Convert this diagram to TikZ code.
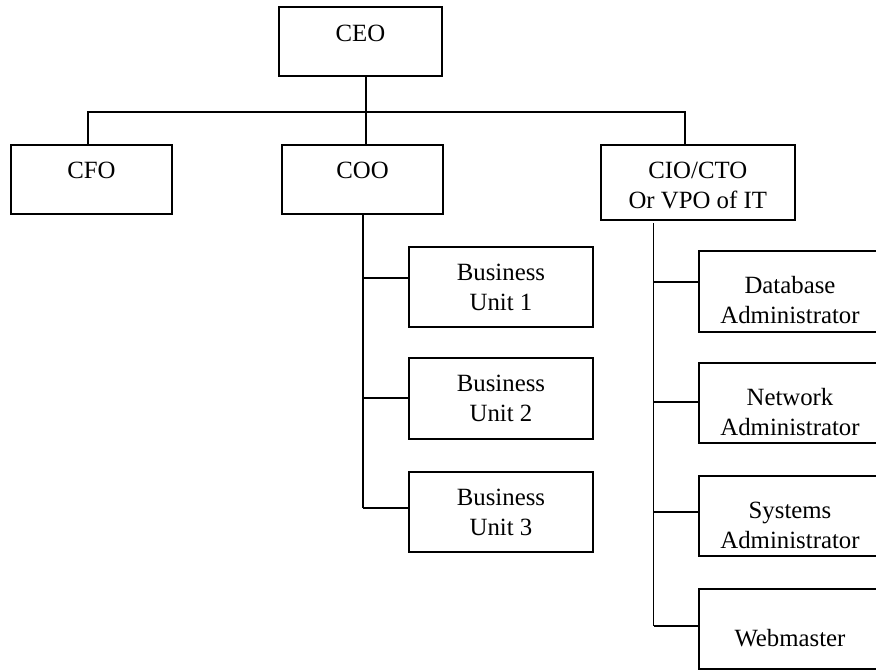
\documentclass[tikz,border=0pt]{standalone}
\usepackage{fontspec}
\setmainfont{Liberation Serif}
\begin{document}
\begin{tikzpicture}[x=1pt,y=-1pt,
  box/.style={draw,line width=1.8pt,rectangle,inner sep=0pt},
  txt/.style={anchor=base,align=center,inner sep=0pt,font=\fontsize{24.8}{30}\selectfont},
  conn/.style={line width=1.8pt}]
\useasboundingbox (0,0) rectangle (876,672);
\clip (0,0) rectangle (876,672);
% boxes
\node[box,minimum width=163pt,minimum height=69.3pt] (ceo) at (360.5,41.35) {};
\node[box,minimum width=161pt,minimum height=69pt] (cfo) at (91.5,179.5) {};
\node[box,minimum width=161.6pt,minimum height=69pt] (coo) at (362.5,179.5) {};
\node[box,minimum width=194.3pt,minimum height=75pt] (cio) at (697.85,182.5) {};
\node[box,minimum width=184.6pt,minimum height=80.6pt] (bu1) at (501,287) {};
\node[box,minimum width=184.6pt,minimum height=80.7pt] (bu2) at (501,398.65) {};
\node[box,minimum width=184.6pt,minimum height=80.6pt] (bu3) at (501,512) {};
\node[box,minimum width=182.6pt,minimum height=81pt] (db) at (790,291.2) {};
\node[box,minimum width=182.6pt,minimum height=80pt] (net) at (790,402.7) {};
\node[box,minimum width=182.6pt,minimum height=80.3pt] (sys) at (790,515.85) {};
\node[box,minimum width=182.6pt,minimum height=80pt] (web) at (790,629.3) {};
% texts (anchor base = baseline of the last line)
\node[txt] (tceo) at (360.5,41.7) {CEO};
\node[txt] (tcfo) at (91.5,178) {CFO};
\node[txt] (tcoo) at (362.5,178) {COO};
\node[txt] (tcio) at (697.8,208.3) {CIO/CTO\\Or VPO of IT};
\node[txt] (tbu1) at (501,310.5) {Business\\Unit 1};
\node[txt] (tbu2) at (501,421.8) {Business\\Unit 2};
\node[txt] (tbu3) at (501,535) {Business\\Unit 3};
\node[txt] (tdb) at (790,323.3) {Database\\Administrator};
\node[txt] (tnet) at (790,435.3) {Network\\Administrator};
\node[txt] (tsys) at (790,548.3) {Systems\\Administrator};
\node[txt] (tweb) at (790,646.7) {Webmaster};
% top-level connectors
\coordinate (busC) at (365.7,111.7);
\draw[conn] ([xshift=5.2pt]ceo.south) -- (busC);
\draw[conn] ([xshift=-3.2pt]cfo.north) |- (busC) -| ([xshift=-12.85pt]cio.north);
\draw[conn] (busC) -- ([xshift=3.2pt]coo.north);
% COO trunk
\coordinate (ct) at (363.3,214);
\coordinate (cb1) at (363.3,278.3);
\coordinate (cb2) at (363.3,398.3);
\coordinate (cb3) at (363.3,508.3);
\draw[conn] (ct) -- (cb3);
\draw[conn] (cb1) -- (cb1 -| bu1.west);
\draw[conn] (cb2) -- (cb2 -| bu2.west);
\draw[conn] (cb3) -- (cb3 -| bu3.west);
% CIO trunk
\coordinate (it) at (653.5,223);
\coordinate (ib1) at (653.5,282.3);
\coordinate (ib2) at (653.5,402.3);
\coordinate (ib3) at (653.5,512.3);
\coordinate (ib4) at (653.5,625.7);
\draw[conn] (it) -- (ib4);
\draw[conn] (ib1) -- (ib1 -| db.west);
\draw[conn] (ib2) -- (ib2 -| net.west);
\draw[conn] (ib3) -- (ib3 -| sys.west);
\draw[conn] (ib4) -- (ib4 -| web.west);
\end{tikzpicture}
\end{document}
